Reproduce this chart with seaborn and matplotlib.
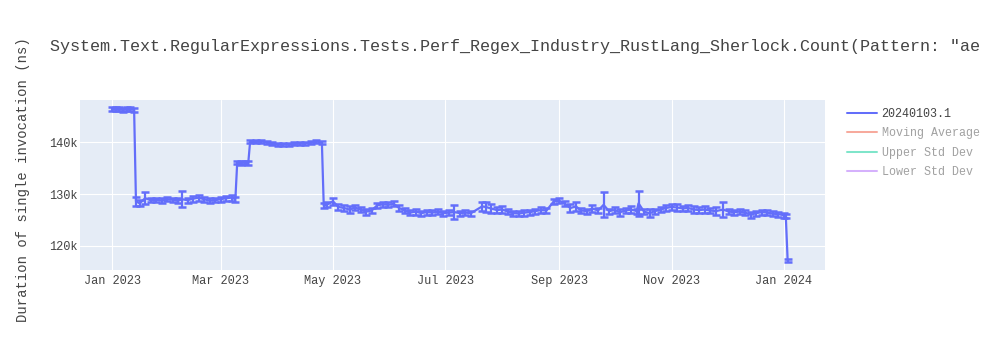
import matplotlib
matplotlib.use("Agg")
import matplotlib.pyplot as plt
import matplotlib.dates as mdates
from matplotlib.lines import Line2D
from matplotlib.ticker import FuncFormatter, FixedLocator
import seaborn as sns
import pandas as pd

# ---------------- data ----------------
dates = [
    "2023-01-01", "2023-01-03", "2023-01-05", "2023-01-07", "2023-01-09", "2023-01-11", "2023-01-13",
    "2023-01-14", "2023-01-16", "2023-01-19", "2023-01-22", "2023-01-25", "2023-01-28", "2023-01-31",
    "2023-02-03", "2023-02-06", "2023-02-08", "2023-02-11", "2023-02-14", "2023-02-17", "2023-02-20",
    "2023-02-23", "2023-02-26", "2023-03-01", "2023-03-04", "2023-03-07", "2023-03-09",
    "2023-03-10", "2023-03-12", "2023-03-14", "2023-03-16",
    "2023-03-17", "2023-03-20", "2023-03-23", "2023-03-26", "2023-03-29", "2023-04-01", "2023-04-04",
    "2023-04-07", "2023-04-10", "2023-04-13", "2023-04-16", "2023-04-19", "2023-04-22", "2023-04-25",
    "2023-04-26", "2023-04-28", "2023-05-01", "2023-05-04", "2023-05-07", "2023-05-10", "2023-05-13",
    "2023-05-16", "2023-05-19", "2023-05-22", "2023-05-25", "2023-05-28", "2023-05-31", "2023-06-03",
    "2023-06-06", "2023-06-09", "2023-06-12", "2023-06-15", "2023-06-18", "2023-06-21", "2023-06-24",
    "2023-06-27", "2023-06-30", "2023-07-03", "2023-07-06", "2023-07-09", "2023-07-12", "2023-07-15",
    "2023-07-21", "2023-07-23", "2023-07-26", "2023-07-29", "2023-08-01", "2023-08-04", "2023-08-07",
    "2023-08-10", "2023-08-13", "2023-08-16", "2023-08-19", "2023-08-22", "2023-08-25",
    "2023-08-29", "2023-09-01", "2023-09-04", "2023-09-07", "2023-09-10", "2023-09-13", "2023-09-16",
    "2023-09-19", "2023-09-22",
    "2023-09-25", "2023-09-28", "2023-10-01", "2023-10-04", "2023-10-07", "2023-10-10", "2023-10-13",
    "2023-10-14", "2023-10-17", "2023-10-20", "2023-10-23",
    "2023-10-26", "2023-10-29", "2023-11-01", "2023-11-04", "2023-11-07", "2023-11-10", "2023-11-13",
    "2023-11-16", "2023-11-19", "2023-11-22", "2023-11-25", "2023-11-29", "2023-12-02", "2023-12-05",
    "2023-12-08", "2023-12-11", "2023-12-14", "2023-12-17", "2023-12-20", "2023-12-23", "2023-12-26",
    "2023-12-29", "2024-01-01", "2024-01-02", "2024-01-03",
]

durations = [
    146400, 146500, 146400, 146300, 146400, 146500, 146300,
    128600, 128200, 129200, 128800, 128900, 128700, 129000,
    128900, 128700, 129000, 128800, 129100, 129300, 129000,
    128700, 128800, 129000, 129200, 129300, 129000,
    136100, 136000, 136100, 136000,
    140100, 140100, 140200, 140000, 139700, 139600, 139600,
    139600, 139700, 139800, 139800, 139900, 140200, 139900,
    127800, 128000, 128600, 127500, 127300, 127000, 127400,
    127000, 126600, 126800, 127800, 128000, 127900, 128100,
    127300, 126800, 126400, 126600, 126300, 126500, 126400,
    126600, 126300, 126400, 126500, 126300, 126400, 126300,
    127600, 127500, 127200, 126900, 127000, 126600, 126300,
    126200, 126400, 126500, 126700, 126900, 126800,
    128600, 128700, 128100, 127300, 127600, 126800, 126700,
    127200, 126800,
    127900, 126700, 126900, 126500, 126800, 127000, 126700,
    128200, 126600, 126300, 126700,
    127000, 127300, 127500, 127400, 127200, 127300, 127000,
    126900, 127000, 126800, 126700, 127000, 126600, 126500,
    126600, 126400, 126000, 126300, 126500, 126400, 126200,
    126100, 125900, 125800, 117200,
]

errors = [
    400, 400, 400, 400, 400, 400, 400,
    900, 600, 1100, 400, 400, 500, 400,
    400, 500, 1600, 500, 600, 600, 500,
    500, 400, 500, 500, 600, 500,
    300, 300, 300, 300,
    300, 300, 300, 300, 300, 300, 300,
    300, 300, 300, 300, 300, 300, 300,
    500, 500, 700, 500, 500, 600, 500,
    500, 600, 500, 500, 500, 500, 500,
    500, 500, 500, 600, 500, 500, 500,
    500, 500, 500, 1300, 500, 500, 500,
    800, 1000, 900, 500, 700, 500, 500,
    500, 600, 500, 500, 600, 500,
    500, 500, 500, 800, 800, 500, 500,
    700, 500,
    2400, 500, 500, 700, 500, 600, 500,
    2400, 500, 800, 500,
    500, 500, 500, 600, 500, 500, 600,
    500, 600, 500, 800, 1400, 500, 500,
    500, 500, 600, 500, 500, 500, 500,
    500, 500, 400, 300,
]

series_name = "20240103.1"
legend_labels = ["20240103.1", "Moving Average", "Upper Std Dev", "Lower Std Dev"]
y_ticks = [120000, 130000, 140000]
title_text = 'System.Text.RegularExpressions.Tests.Perf_Regex_Industry_RustLang_Sherlock.Count(Pattern: "ae'
y_label = "Duration of single invocation (ns)"

df = pd.DataFrame({"date": pd.to_datetime(dates), "duration": durations, "err": errors})

# ---------------- style ----------------
sns.set_style("darkgrid", {"axes.facecolor": "#E5ECF6", "grid.color": "white"})
plt.rcParams["font.family"] = ["Liberation Mono", "DejaVu Sans Mono"]

BLUE = "#636efa"
TXT = "#444444"

fig = plt.figure(figsize=(10, 3.5), dpi=100)
fig.patch.set_facecolor("white")
ax = fig.add_axes([0.08, 80 / 350, 0.745, 170 / 350])
ax.set_facecolor("#E5ECF6")

sns.lineplot(data=df, x="date", y="duration", ax=ax, color=BLUE, linewidth=1.6,
             estimator=None, legend=False)
ax.errorbar(df["date"], df["duration"], yerr=df["err"], fmt="none", ecolor=BLUE,
            elinewidth=1.6, capsize=3.0, capthick=1.8, zorder=3)

x0 = pd.Timestamp("2023-01-01")
ax.set_xlim(x0 - pd.Timedelta(days=17.4), x0 + pd.Timedelta(days=387.3))
ax.set_ylim(115300, 148200)

ax.xaxis.set_major_locator(mdates.MonthLocator(bymonth=[1, 3, 5, 7, 9, 11]))
ax.xaxis.set_major_formatter(mdates.DateFormatter("%b %Y"))
ax.yaxis.set_major_locator(FixedLocator(y_ticks))
ax.yaxis.set_major_formatter(FuncFormatter(lambda v, p: f"{int(v / 1000)}k"))

ax.grid(True, color="white", linewidth=0.8)
for s in ax.spines.values():
    s.set_visible(False)
ax.tick_params(axis="both", length=0, labelsize=8.6, labelcolor=TXT)
ax.tick_params(axis="y", pad=1.5)
ax.tick_params(axis="x", pad=3.5)
ax.set_xlabel("")
ax.set_ylabel("")

fig.text(0.05, 1 - 46 / 350, title_text, fontsize=12.1, color=TXT, ha="left", va="center")
fig.text(23 / 1000, 1 - 180 / 350, y_label, fontsize=10, color=TXT, rotation=90,
         ha="center", va="center")

faded_txt = "#a1a1a1"
handle_colors = [BLUE, "#f7aa9d", "#7fe5ca", "#d5b1fc"]
handles = [Line2D([], [], color=c, linewidth=1.45) for c in handle_colors]
leg = ax.legend(handles, legend_labels, loc="upper left", bbox_to_anchor=(842 / 1000, 1 - 103 / 350),
                bbox_transform=fig.transFigure, frameon=False, fontsize=8.4,
                handlelength=2.6, handletextpad=0.4, labelspacing=0.65, borderaxespad=0)
for i, t in enumerate(leg.get_texts()):
    t.set_color(TXT if i == 0 else faded_txt)

fig.savefig("out.png", dpi=100)
